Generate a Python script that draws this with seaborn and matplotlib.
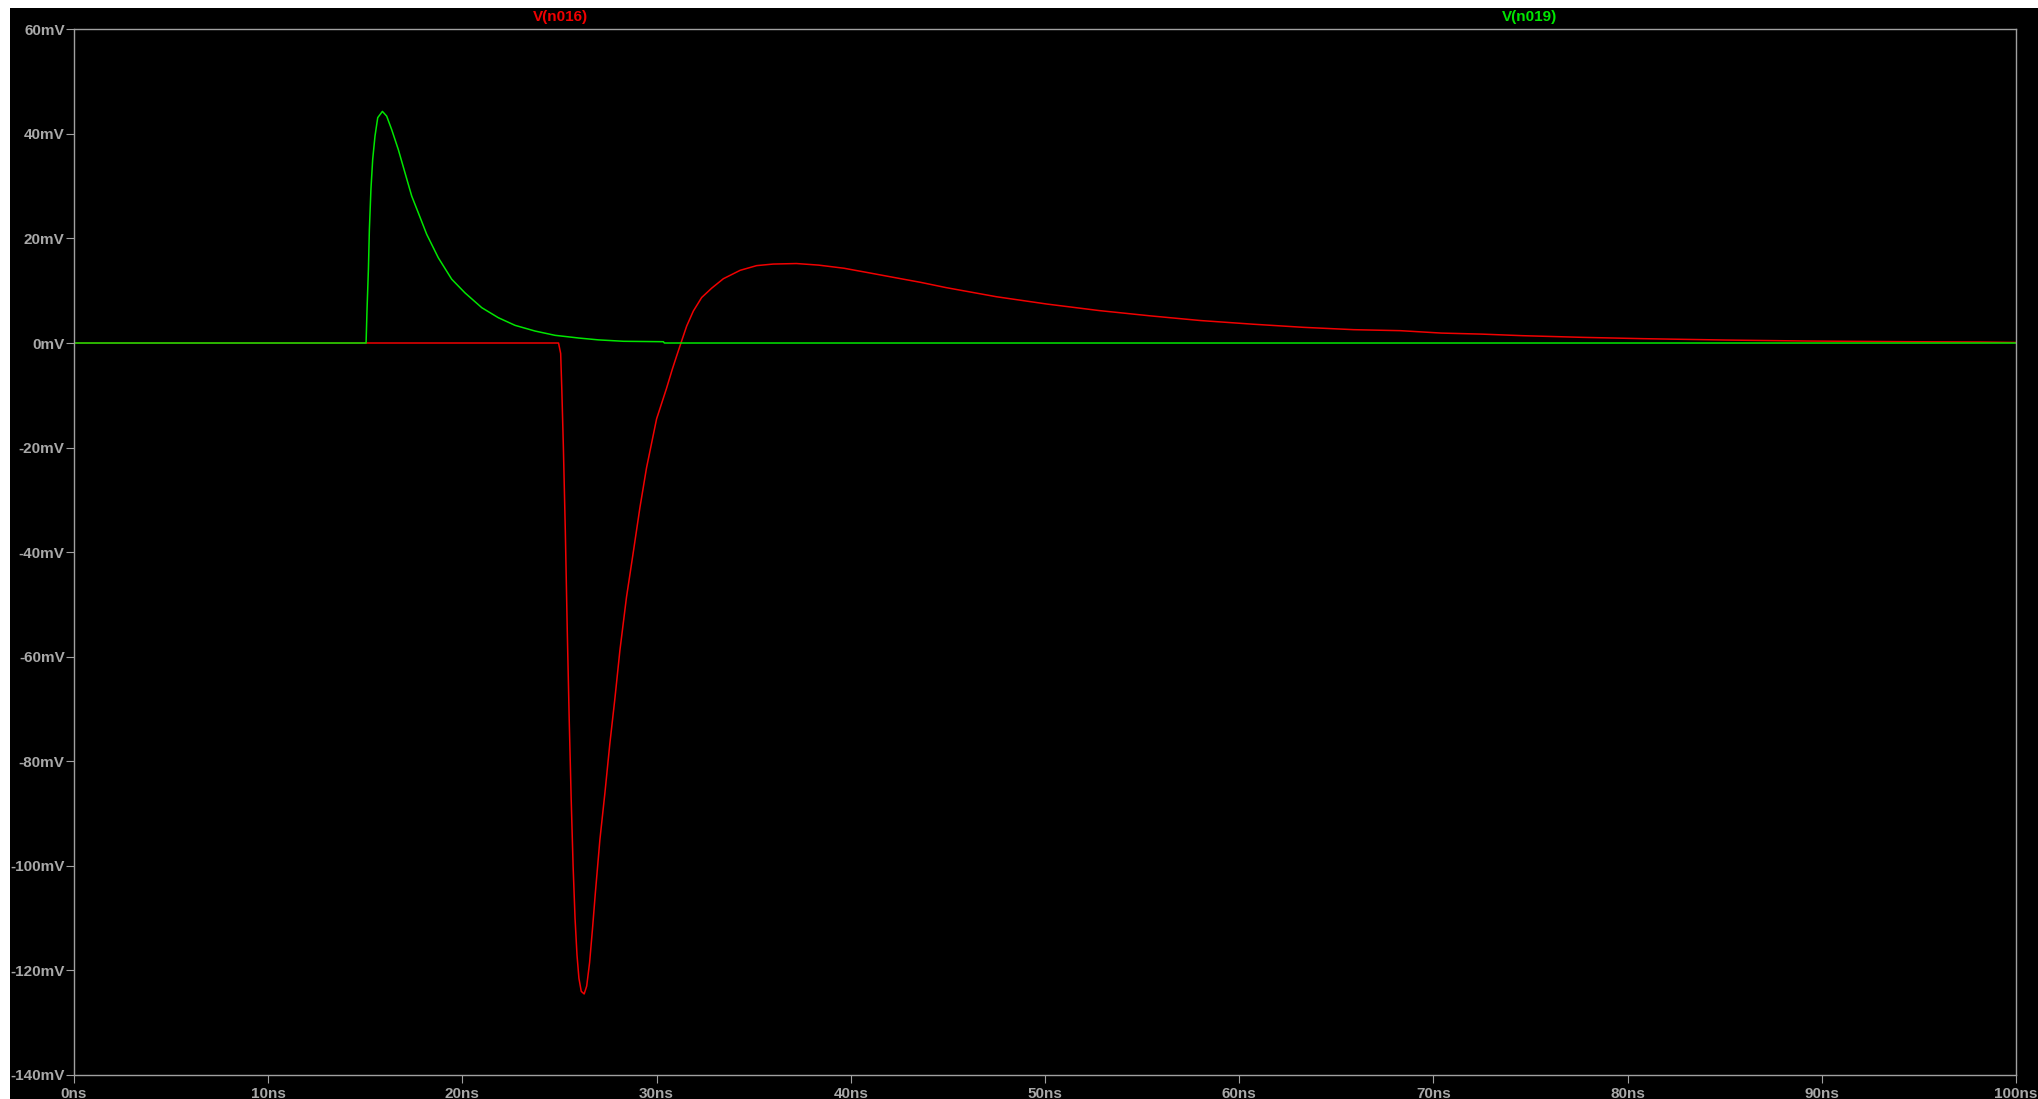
import matplotlib
matplotlib.use('Agg')
import matplotlib.pyplot as plt
from matplotlib.patches import Rectangle
import numpy as np
import seaborn as sns

# V(n016) trace, red (time in ns, voltage in mV)
red_t = [0, 24.95, 25.06, 25.12, 25.2, 25.3, 25.4, 25.5, 25.6, 25.7, 25.8, 25.9,
         26.0, 26.12, 26.27, 26.4, 26.55, 26.7, 26.85, 27.08, 27.34, 27.59, 27.85,
         28.11, 28.45, 28.8, 29.14, 29.48, 30.0, 30.5, 30.81, 31.03, 31.29, 31.55,
         31.89, 32.32, 32.84, 33.44, 34.3, 35.15, 36.0, 37.2, 38.34, 39.65, 40.97,
         42.28, 43.6, 44.9, 47.5, 50.1, 52.8, 55.4, 58.0, 60.7, 63.3, 65.9, 68.3,
         70.4, 72.5, 74.6, 77.7, 80.8, 85.0, 89.2, 94.4, 98.2, 100]
red_v = [0, 0, -2, -9, -20, -36, -55, -72, -87, -100, -110, -117,
         -121.5, -124, -124.5, -123, -118.5, -112, -105, -95, -86, -76.7, -68.1,
         -58.8, -48.6, -40, -31.5, -23.9, -14.5, -8.8, -5.0, -2.5, 0.4, 3.25,
         6.1, 8.7, 10.5, 12.3, 13.9, 14.8, 15.1, 15.2, 14.9, 14.3, 13.4,
         12.5, 11.6, 10.6, 8.85, 7.45, 6.2, 5.2, 4.3, 3.6, 3.0, 2.55, 2.36,
         1.9, 1.7, 1.4, 1.08, 0.83, 0.57, 0.38, 0.25, 0.19, 0.1]

# V(n019) trace, green
green_t = [0, 15.04, 15.09, 15.16, 15.21, 15.29, 15.38, 15.5, 15.64, 15.88, 16.1,
           16.36, 16.7, 17.04, 17.39, 17.73, 18.16, 18.76, 19.45, 20.13, 21.0,
           21.85, 22.71, 23.74, 24.77, 26.0, 27.0, 28.3, 30.35, 30.4, 100]
green_v = [0, 0, 6.5, 14.1, 21.7, 29.4, 35.1, 39.6, 43.1, 44.3, 43.4,
           40.8, 37.0, 32.6, 28.1, 24.9, 20.8, 16.3, 12.2, 9.6, 6.75,
           4.84, 3.38, 2.29, 1.47, 0.95, 0.6, 0.33, 0.25, 0, 0]

y_ticks = list(range(-140, 61, 20))
y_labels = [f"{v}mV" for v in y_ticks]
x_ticks = list(range(0, 101, 10))
x_labels = [f"{v}ns" for v in x_ticks]

RED = '#f00000'
GREEN = '#00e600'
GREY = '#a0a0a0'

sns.set_theme(style="ticks")
plt.rcParams['font.family'] = ['Liberation Sans', 'DejaVu Sans']
plt.rcParams['font.weight'] = 'bold'

W, H = 2038, 1099
fig = plt.figure(figsize=(W / 100, H / 100), dpi=100, facecolor='white')
# black panel with a thin white margin on top and left
fig.patches.append(Rectangle((10 / W, 0), 1 - 10 / W, 1 - 8 / H,
                             transform=fig.transFigure, facecolor='black',
                             edgecolor='none', zorder=-10))

ax = fig.add_axes([74 / W, (H - 1075) / H, (2016 - 74) / W, (1075 - 29.3) / H])
ax.set_facecolor('black')

sns.lineplot(x=red_t, y=red_v, color=RED, linewidth=1.1, ax=ax)
sns.lineplot(x=green_t, y=green_v, color=GREEN, linewidth=1.1, ax=ax)

ax.set_xlim(0, 100)
ax.set_ylim(-140, 60)
ax.set_xticks(x_ticks)
ax.set_xticklabels(x_labels)
ax.set_yticks(y_ticks)
ax.set_yticklabels(y_labels)
ax.set_xlabel('')
ax.set_ylabel('')

for s in ax.spines.values():
    s.set_color(GREY)
    s.set_linewidth(1.0)
ax.tick_params(axis='both', direction='out', length=5.5, width=0.8,
               color=GREY, labelcolor='#a8a8a8', labelsize=11)
ax.tick_params(axis='y', pad=1.2)
ax.tick_params(axis='x', pad=3)
for lab in ax.get_xticklabels() + ax.get_yticklabels():
    lab.set_fontweight('bold')

fig.text(560 / W, 1 - 16.5 / H, 'V(n016)', color=RED, fontsize=11,
         fontweight='bold', ha='center', va='center')
fig.text(1530 / W, 1 - 16.5 / H, 'V(n019)', color=GREEN, fontsize=11,
         fontweight='bold', ha='center', va='center')

fig.savefig('out.png', dpi=100, facecolor=fig.get_facecolor())
